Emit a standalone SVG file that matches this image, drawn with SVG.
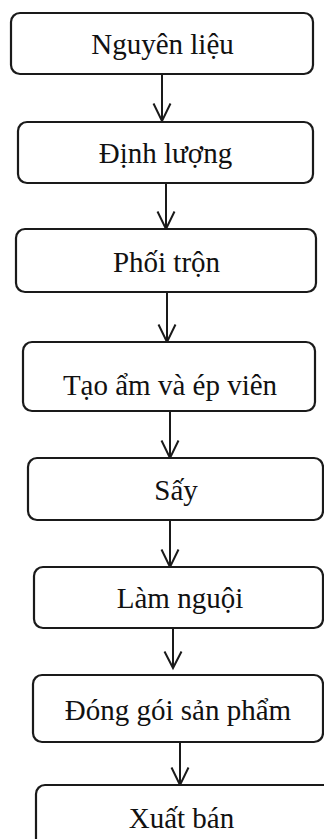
<svg xmlns="http://www.w3.org/2000/svg" width="324" height="839" viewBox="0 0 324 839">
<style>
.box{fill:#fff;stroke:#1a1a1a;stroke-width:2.2}
.lbl{font-family:"Liberation Serif","Times New Roman",serif;font-size:29px;fill:#111;text-anchor:middle}
.con{fill:none;stroke:#1a1a1a;stroke-width:2}
</style>
<rect width="324" height="839" fill="#fff"/>
<g id="connectors">
<path class="con" d="M162 74V121M153.5 103.5L162 121L170.5 103.5"/>
<path class="con" d="M166 183V229M157.5 211.5L166 229L174.5 211.5"/>
<path class="con" d="M167 292V342M158.5 324.5L167 342L175.5 324.5"/>
<path class="con" d="M170 411V458M161.5 440.5L170 458L178.5 440.5"/>
<path class="con" d="M170 520V567M161.5 549.5L170 567L178.5 549.5"/>
<path class="con" d="M173 628V668M164.5 651.5L173 668L181.5 651.5"/>
<path class="con" d="M180 742V785M171.5 767.5L180 785L188.5 767.5"/>
</g>
<g id="n1"><rect class="box" x="11" y="13" width="302" height="61" rx="9"/><text class="lbl" x="162.5" y="54">Nguyên liệu</text></g>
<g id="n2"><rect class="box" x="18" y="122" width="295" height="61" rx="9"/><text class="lbl" x="165.5" y="163">Định lượng</text></g>
<g id="n3"><rect class="box" x="16" y="229" width="300" height="63" rx="9"/><text class="lbl" x="166.5" y="272">Phối trộn</text></g>
<g id="n4"><rect class="box" x="23" y="342" width="292" height="69" rx="9"/><text class="lbl" x="170" y="395">Tạo ẩm và ép viên</text></g>
<g id="n5"><rect class="box" x="28" y="458" width="295" height="62" rx="9"/><text class="lbl" x="176" y="500">Sấy</text></g>
<g id="n6"><rect class="box" x="34" y="567" width="289" height="61" rx="9"/><text class="lbl" x="180" y="608">Làm nguội</text></g>
<g id="n7"><rect class="box" x="33" y="675" width="290" height="67" rx="9"/><text class="lbl" x="178" y="720">Đóng gói sản phẩm</text></g>
<g id="n8"><rect class="box" x="36" y="785" width="300" height="70" rx="9"/><text class="lbl" x="181.5" y="828">Xuất bán</text></g>
</svg>
